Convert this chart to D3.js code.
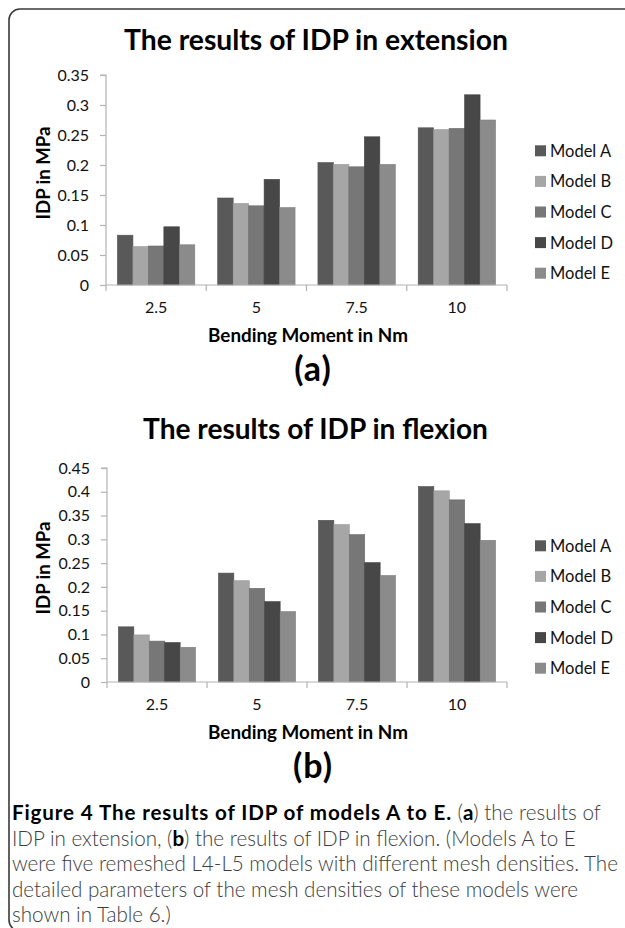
<!DOCTYPE html>
<html>
<head>
<meta charset="utf-8">
<script src="https://cdn.jsdelivr.net/npm/d3@7"></script>
<style>
html,body{margin:0;padding:0;background:#fff;}
svg{display:block;}
</style>
</head>
<body>
<svg id="c" width="625" height="928"></svg>
<script>
// ---------- data ----------
const categories = ["2.5", "5", "7.5", "10"];
const models = ["Model A", "Model B", "Model C", "Model D", "Model E"];
const modelColors = ["#595959", "#a6a6a6", "#777777", "#474747", "#8b8b8b"];

const extensionA = [0.083, 0.145, 0.204, 0.262];
const extensionB = [0.064, 0.136, 0.201, 0.259];
const extensionC = [0.065, 0.132, 0.197, 0.261];
const extensionD = [0.097, 0.176, 0.247, 0.317];
const extensionE = [0.067, 0.129, 0.201, 0.275];

const flexionA = [0.116, 0.229, 0.340, 0.411];
const flexionB = [0.099, 0.213, 0.331, 0.402];
const flexionC = [0.086, 0.197, 0.310, 0.383];
const flexionD = [0.083, 0.169, 0.251, 0.333];
const flexionE = [0.073, 0.148, 0.224, 0.298];

const extensionTicks = [0, 0.05, 0.1, 0.15, 0.2, 0.25, 0.3, 0.35];
const flexionTicks = [0, 0.05, 0.1, 0.15, 0.2, 0.25, 0.3, 0.35, 0.4, 0.45];

const titleExt = "The results of IDP in extension";
const titleFlex = "The results of IDP in flexion";
const yTitle = "IDP in MPa";
const xTitle = "Bending Moment in Nm";

// ---------- helpers ----------
const svg = d3.select("#c");
const FONT = "Lato, 'Open Sans', sans-serif";

function fit(sel, w) {
  const n = sel.node();
  const fs = parseFloat(sel.attr("font-size"));
  const cur = n.getComputedTextLength();
  if (cur > 0) sel.attr("font-size", (fs * w / cur).toFixed(2));
  return sel;
}

// frame
svg.append("rect")
  .attr("x", 9).attr("y", 9).attr("width", 660).attr("height", 922)
  .attr("rx", 11).attr("ry", 11)
  .attr("fill", "none").attr("stroke", "#3a3a3a").attr("stroke-width", 1.6);

function drawChart(cfg) {
  const g = svg.append("g");
  const x0 = d3.scaleBand().domain(categories).range([cfg.left, cfg.right]).paddingInner(0).paddingOuter(0);
  const x1 = d3.scaleBand().domain(models).range([0, x0.bandwidth()]).paddingInner(0).paddingOuter(0.74);
  const y = d3.scaleLinear().domain([0, cfg.max]).range([cfg.bottom, cfg.top]);

  // bars
  const series = cfg.series;
  models.forEach((m, mi) => {
    g.append("g").selectAll("rect").data(series[mi]).join("rect")
      .attr("x", (d, i) => x0(categories[i]) + x1(m))
      .attr("y", d => y(d))
      .attr("width", x1.bandwidth())
      .attr("height", d => y(0) - y(d))
      .attr("fill", modelColors[mi])
      .attr("stroke", d3.color(modelColors[mi]).darker(0.25))
      .attr("stroke-width", 0.6);
  });

  // y axis
  const yAxis = d3.axisLeft(y).tickValues(cfg.ticks).tickSize(6).tickPadding(11)
    .tickFormat(d => d3.format("")(+d.toFixed(2)));
  const ya = g.append("g").attr("transform", `translate(${cfg.left},0)`).call(yAxis);
  ya.select(".domain").attr("stroke", "#b3b3b3").attr("stroke-width", 1.2).attr("d", `M-6,${cfg.top}H0V${cfg.bottom}`);
  ya.selectAll(".tick line").attr("stroke", "#b3b3b3").attr("stroke-width", 1.2);
  ya.selectAll(".tick text").attr("font-family", FONT).attr("font-size", 16).attr("fill", "#111");

  // x axis
  const xa = g.append("g").attr("transform", `translate(0,${cfg.bottom})`);
  xa.append("line").attr("x1", cfg.left).attr("x2", cfg.right).attr("y1", 0).attr("y2", 0)
    .attr("stroke", "#b3b3b3").attr("stroke-width", 1.2);
  const bounds = categories.map(c => x0(c)).concat([x0(categories[categories.length - 1]) + x0.bandwidth()]);
  xa.selectAll("line.tk").data(bounds).join("line").attr("class", "tk")
    .attr("x1", d => d).attr("x2", d => d).attr("y1", 0).attr("y2", 6)
    .attr("stroke", "#b3b3b3").attr("stroke-width", 1.2);
  xa.selectAll("text").data(categories).join("text")
    .attr("x", d => x0(d) + x0.bandwidth() / 2).attr("y", 28)
    .attr("text-anchor", "middle").attr("font-family", FONT).attr("font-size", 16).attr("fill", "#111")
    .text(d => d);

  // title
  fit(g.append("text").attr("x", cfg.titleX).attr("y", cfg.titleY).attr("text-anchor", "middle")
    .attr("font-family", FONT).attr("font-weight", "bold").attr("font-size", 28).attr("fill", "#000")
    .text(cfg.title), cfg.titleW);

  // y title
  fit(g.append("text").attr("transform", `translate(${cfg.yTitleX},${(cfg.top + cfg.bottom) / 2 - 7}) rotate(-90)`)
    .attr("text-anchor", "middle").attr("dy", "0.35em")
    .attr("font-family", FONT).attr("font-weight", "bold").attr("font-size", 18).attr("fill", "#000")
    .text(yTitle), 93);

  // x title
  fit(g.append("text").attr("x", 308).attr("y", cfg.bottom + 57).attr("text-anchor", "middle")
    .attr("font-family", FONT).attr("font-weight", "bold").attr("font-size", 18).attr("fill", "#000")
    .text(xTitle), 200);

  // panel letter
  g.append("text").attr("x", 313).attr("y", cfg.bottom + 96).attr("text-anchor", "middle")
    .attr("font-family", FONT).attr("font-weight", "bold").attr("font-size", 34).attr("fill", "#000")
    .attr("letter-spacing", 1)
    .text(cfg.letter);

  // legend
  const legCenter = (cfg.top + cfg.bottom) / 2 + 32;
  const leg = g.append("g");
  models.forEach((m, i) => {
    const cy = legCenter + (i - 2) * 30.6;
    leg.append("rect").attr("x", 535).attr("y", cy - 5.5).attr("width", 11).attr("height", 11)
      .attr("fill", modelColors[i]);
    leg.append("text").attr("x", 550).attr("y", cy).attr("dy", "0.36em")
      .attr("font-family", FONT).attr("font-size", 16.5).attr("fill", "#111").text(m);
  });
}

drawChart({
  left: 106, right: 507, top: 75, bottom: 285, max: 0.35, ticks: extensionTicks,
  series: [extensionA, extensionB, extensionC, extensionD, extensionE],
  title: titleExt, titleX: 316, titleY: 50, titleW: 384, yTitleX: 43, letter: "(a)"
});
drawChart({
  left: 107, right: 507, top: 468, bottom: 682, max: 0.45, ticks: flexionTicks,
  series: [flexionA, flexionB, flexionC, flexionD, flexionE],
  title: titleFlex, titleX: 315.5, titleY: 439, titleW: 345, yTitleX: 43, letter: "(b)"
});

// ---------- caption ----------
const capLines = [
  [["Figure 4 The results of IDP of models A to E.", true], [" (", false], ["a", true], [") the results of", false]],
  [["IDP in extension, (", false], ["b", true], [") the results of IDP in flexion. (Models A to E", false]],
  [["were five remeshed L4-L5 models with different mesh densities. The", false]],
  [["detailed parameters of the mesh densities of these models were", false]],
  [["shown in Table 6.)", false]]
];
const cap = svg.append("g");
const capTexts = capLines.map((parts, li) => {
  const t = cap.append("text").attr("x", 12).attr("y", 820 + li * 25.5)
    .attr("font-family", FONT).attr("font-size", 19);
  parts.forEach(([s, b]) => {
    t.append("tspan").attr("font-weight", b ? "bold" : "300")
      .attr("fill", b ? "#000" : "#3c3c3c").text(s);
  });
  return t;
});
// size caption so line 3 matches reference width
const l3 = capTexts[2].node().getComputedTextLength();
const capFs = 19 * 606 / l3;
capTexts.forEach(t => t.attr("font-size", capFs.toFixed(2)));
// widen the bold lead-in so line 1 spans like the reference
const lead = capTexts[0].select("tspan").node();
const leadLen = lead.getComputedTextLength();
const leadChars = lead.textContent.length;
d3.select(lead).attr("letter-spacing", ((440 - leadLen) / leadChars).toFixed(2));
</script>
</body>
</html>
